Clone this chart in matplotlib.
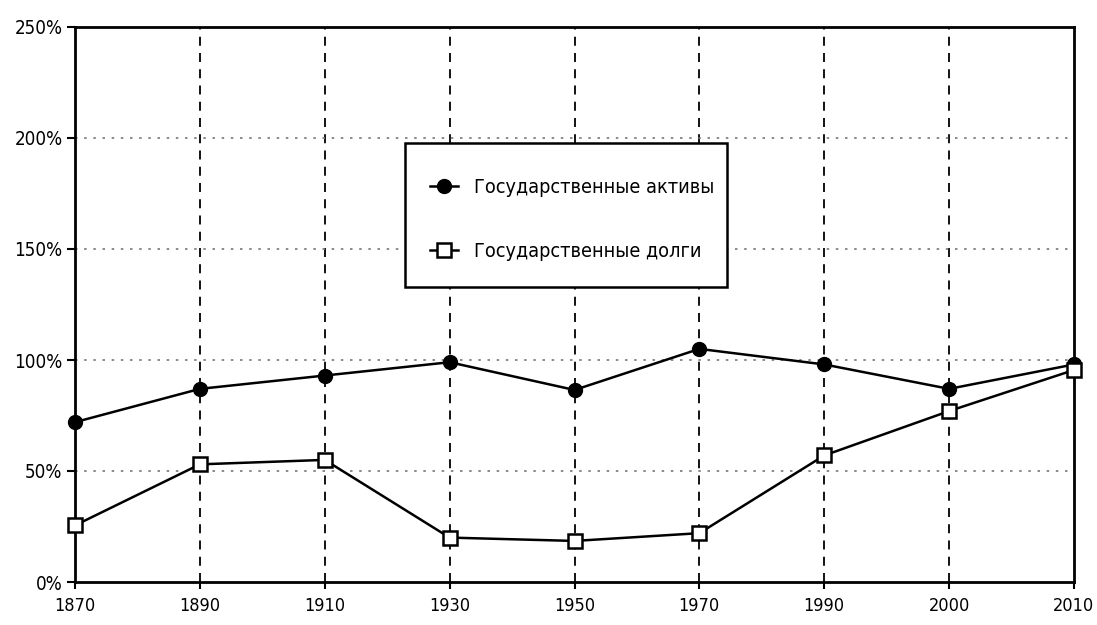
import matplotlib
matplotlib.use("Agg")
import matplotlib.pyplot as plt
from matplotlib.patches import Rectangle
from matplotlib.ticker import FuncFormatter

years = ["1870", "1890", "1910", "1930", "1950", "1970", "1990", "2000", "2010"]
assets = [72, 87, 93, 99, 86.5, 105, 98, 87, 98]
debts = [25.5, 53, 55, 20, 18.5, 22, 57, 77, 95.5]
yticks = [0, 50, 100, 150, 200, 250]

plt.rcParams["font.family"] = ["DejaVu Sans"]
plt.rcParams["font.stretch"] = "condensed"

W, H = 1097, 625
fig = plt.figure(figsize=(W/100, H/100), dpi=100)
ax = fig.add_axes([75/W, 43/H, 999/W, 555/H])

x = list(range(len(years)))
ax.plot(x, assets, color="black", lw=1.8, marker="o", ms=10, mfc="black",
        mec="black", label="Государственные активы", zorder=4, clip_on=False)
ax.plot(x, debts, color="black", lw=1.8, marker="s", ms=10, mfc="white",
        mec="black", mew=1.8, label="Государственные долги", zorder=4, clip_on=False)

ax.set_xlim(0, len(years) - 1)
ax.set_ylim(0, 250)
ax.set_xticks(x)
ax.set_xticklabels(years)
ax.set_yticks(yticks)
ax.yaxis.set_major_formatter(FuncFormatter(lambda v, p: f"{int(v)}%"))
ax.tick_params(axis="x", labelsize=13, length=5, width=1.5, color="black", pad=6)
ax.tick_params(axis="y", labelsize=13.5, length=6, width=1.5, color="black", pad=3)

for xi in x[1:-1]:
    ax.axvline(xi, color="black", lw=1.3, ls=(0, (5, 4)), zorder=1)
for yv in yticks[1:-1]:
    ax.axhline(yv, color="#777777", lw=1.2, ls=(0, (1.5, 4)), zorder=1)

for s in ax.spines.values():
    s.set_linewidth(2)
    s.set_color("black")

# legend box
box = Rectangle((405/W, 1 - 287/H), 322/W, 144/H, transform=fig.transFigure,
                facecolor="white", edgecolor="black", lw=1.8, zorder=5)
fig.add_artist(box)
leg = fig.legend(*ax.get_legend_handles_labels(), loc="center left",
                 bbox_to_anchor=(430/W, 1 - 219.5/H), fontsize=14.2, frameon=False,
                 borderpad=0, labelspacing=2.3, handlelength=1.4,
                 handletextpad=0.85, borderaxespad=0)
leg.set_zorder(6)

fig.savefig("out.png", dpi=100, facecolor="white")
